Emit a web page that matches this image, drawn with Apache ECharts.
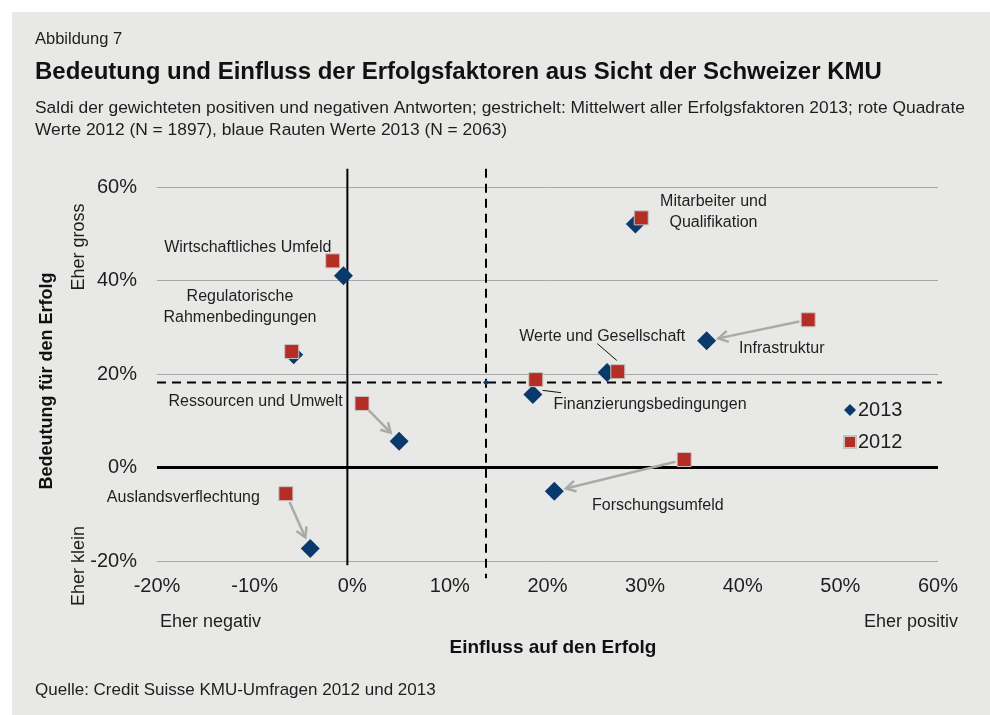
<!DOCTYPE html>
<html>
<head>
<meta charset="utf-8">
<script src="https://cdn.jsdelivr.net/npm/echarts@6/dist/echarts.min.js"></script>
<style>
  html, body { margin: 0; padding: 0; background: #ffffff; }
  #chart { width: 990px; height: 715px; }
</style>
</head>
<body>
<div id="chart"></div>
<script>
// Erfolgsfaktoren, Werte in Prozent
const factors = ['Mitarbeiter und Qualifikation', 'Wirtschaftliches Umfeld', 'Regulatorische Rahmenbedingungen',
  'Ressourcen und Umwelt', 'Auslandsverflechtung', 'Werte und Gesellschaft', 'Infrastruktur',
  'Finanzierungsbedingungen', 'Forschungsumfeld']
const einfluss2012 = [29.6, -2.0, -6.2, 1.0, -6.8, 27.2, 46.7, 18.8, 34.0]
const bedeutung2012 = [53.4, 44.2, 24.8, 13.7, -5.6, 20.5, 31.6, 18.8, 1.7]
const einfluss2013 = [29.0, -0.9, -6.0, 4.8, -4.3, 26.1, 36.3, 18.5, 20.7]
const bedeutung2013 = [52.1, 41.0, 24.1, 5.6, -17.3, 20.3, 27.1, 15.6, -5.1]
// Pfeile von 2012 nach 2013
const arrowIdx = [3, 4, 6, 8]
// Mittelwert aller Erfolgsfaktoren 2013
const meanX = 13.7
const meanY = 18.2
const zeroX = -0.5

// Beschriftungen (Datenkoordinaten)
const labelText = ['Mitarbeiter und\nQualifikation', 'Wirtschaftliches Umfeld', 'Regulatorische\nRahmenbedingungen',
  'Ressourcen und Umwelt', 'Auslandsverflechtung', 'Werte und Gesellschaft', 'Infrastruktur',
  'Finanzierungsbedingungen', 'Forschungsumfeld']
const labelX = [37.0, -10.7, -11.5, -9.9, -17.3, 25.6, 44.0, 30.5, 31.3]
const labelY = [54.7, 47.0, 34.4, 14.1, -6.4, 28.0, 25.4, 13.5, -8.1]
// Hinweislinien [x1, y1, x2, y2]
const leaders = [[25.1, 26.5, 27.1, 22.9], [19.5, 16.5, 21.4, 16.0]]

const font = "'Liberation Sans', Arial, sans-serif"
const textColor = '#1e1e1e'
const red = '#b42d27'
const blue = '#0a3a6c'
const grey = '#a9aba7'

const chart = echarts.init(document.getElementById('chart'))

const pts2012 = einfluss2012.map((x, i) => [x, bedeutung2012[i]])
const pts2013 = einfluss2013.map((x, i) => [x, bedeutung2013[i]])
const arrows = arrowIdx.map(i => [einfluss2012[i], bedeutung2012[i], einfluss2013[i], bedeutung2013[i]])

const solidLines = [[zeroX, 63.9, zeroX, -20.9, 2], [-20, 0, 60, 0, 3]]
const dashedLines = [[meanX, 63.9, meanX, -23.7], [-20, meanY, 60.4, meanY]]

function lineItem(params, api, style) {
  const a = api.coord([api.value(0), api.value(1)])
  const b = api.coord([api.value(2), api.value(3)])
  return { type: 'line', shape: { x1: a[0], y1: a[1], x2: b[0], y2: b[1] }, style: style }
}

const options = {
  backgroundColor: '#ffffff',
  graphic: [
    { type: 'rect', left: 12, top: 12, shape: { width: 978, height: 703 }, style: { fill: '#e8e9e7' }, z: -10 },
    { type: 'text', left: 35, top: 31, style: { text: 'Abbildung 7', font: '16.5px ' + font, fill: textColor } },
    { type: 'text', left: 35, top: 60, style: { text: 'Bedeutung und Einfluss der Erfolgsfaktoren aus Sicht der Schweizer KMU', font: 'bold 24px ' + font, fill: '#111' } },
    { type: 'text', left: 35, top: 97, style: { text: 'Saldi der gewichteten positiven und negativen Antworten; gestrichelt: Mittelwert aller Erfolgsfaktoren 2013; rote Quadrate\nWerte 2012 (N = 1897), blaue Rauten Werte 2013 (N = 2063)', font: '17.4px ' + font, fill: textColor, lineHeight: 22 } },
    { type: 'text', left: 35, top: 682, style: { text: 'Quelle: Credit Suisse KMU-Umfragen 2012 und 2013', font: '17px ' + font, fill: textColor } },
    { type: 'text', left: 160, top: 613, style: { text: 'Eher negativ', font: '18px ' + font, fill: textColor } },
    { type: 'text', right: 32, top: 613, style: { text: 'Eher positiv', font: '18px ' + font, fill: textColor } },
    { type: 'text', x: 553, y: 648, style: { text: 'Einfluss auf den Erfolg', font: 'bold 19px ' + font, fill: '#111', align: 'center', verticalAlign: 'middle' } },
    { type: 'text', x: 47, y: 381, rotation: Math.PI / 2, style: { text: 'Bedeutung für den Erfolg', font: 'bold 18px ' + font, fill: '#111', align: 'center', verticalAlign: 'middle' } },
    { type: 'text', x: 79, y: 247, rotation: Math.PI / 2, style: { text: 'Eher gross', font: '18px ' + font, fill: textColor, align: 'center', verticalAlign: 'middle' } },
    { type: 'text', x: 79, y: 566, rotation: Math.PI / 2, style: { text: 'Eher klein', font: '18px ' + font, fill: textColor, align: 'center', verticalAlign: 'middle' } }
  ],
  grid: { left: 157, right: 52, top: 187, bottom: 154 },
  legend: {
    orient: 'vertical',
    left: 838,
    top: 395,
    itemWidth: 12,
    itemHeight: 12,
    itemGap: 12,
    data: [{ name: '2013', icon: 'diamond' }, { name: '2012', icon: 'rect' }],
    textStyle: { fontFamily: font, fontSize: 20, color: textColor, padding: [0, 0, 0, -3] }
  },
  xAxis: {
    type: 'value',
    min: -20,
    max: 60,
    interval: 10,
    axisLine: { show: false },
    axisTick: { show: false },
    splitLine: { show: false },
    axisLabel: { formatter: '{value}%', fontFamily: font, fontSize: 20, color: textColor, margin: 15 }
  },
  yAxis: {
    type: 'value',
    min: -20,
    max: 60,
    interval: 20,
    axisLine: { show: false },
    axisTick: { show: false },
    splitLine: { lineStyle: { color: '#a8a8a8', width: 1 } },
    axisLabel: { formatter: '{value}%', fontFamily: font, fontSize: 20, color: textColor, margin: 20 }
  },
  series: [
    {
      type: 'custom',
      name: 'solid',
      silent: true,
      z: 1,
      data: solidLines,
      renderItem: (params, api) => lineItem(params, api, { stroke: '#000', lineWidth: api.value(4) })
    },
    {
      type: 'custom',
      name: 'dashed',
      silent: true,
      z: 1,
      data: dashedLines,
      renderItem: (params, api) => lineItem(params, api, { stroke: '#000', lineWidth: 2, lineDash: [9, 6] })
    },
    {
      type: 'custom',
      name: 'leader',
      silent: true,
      z: 2,
      data: leaders,
      renderItem: (params, api) => lineItem(params, api, { stroke: '#111', lineWidth: 1 })
    },
    {
      type: 'custom',
      name: 'arrows',
      silent: true,
      z: 2,
      data: arrows,
      renderItem: (params, api) => {
        const a = api.coord([api.value(0), api.value(1)])
        const b = api.coord([api.value(2), api.value(3)])
        const dx = b[0] - a[0], dy = b[1] - a[1]
        const len = Math.sqrt(dx * dx + dy * dy)
        const ux = dx / len, uy = dy / len
        const s = [a[0] + ux * 9, a[1] + uy * 9]
        const t = [b[0] - ux * 12, b[1] - uy * 12]
        const h = 11, ang = Math.PI / 6
        const c = Math.cos(ang), sn = Math.sin(ang)
        const p1 = [t[0] - h * (ux * c - uy * sn), t[1] - h * (uy * c + ux * sn)]
        const p2 = [t[0] - h * (ux * c + uy * sn), t[1] - h * (uy * c - ux * sn)]
        return {
          type: 'group',
          children: [
            { type: 'line', shape: { x1: s[0], y1: s[1], x2: t[0], y2: t[1] }, style: { stroke: grey, lineWidth: 2.5 } },
            { type: 'polyline', shape: { points: [p1, t, p2] }, style: { stroke: grey, lineWidth: 2.5, fill: null } }
          ]
        }
      }
    },
    {
      type: 'custom',
      name: 'labels',
      silent: true,
      z: 3,
      data: labelX.map((x, i) => [x, labelY[i]]),
      renderItem: (params, api) => {
        const p = api.coord([api.value(0), api.value(1)])
        return {
          type: 'text',
          x: p[0],
          y: p[1],
          style: { text: labelText[params.dataIndex], font: '16px ' + font, fill: textColor, align: 'center', verticalAlign: 'middle', lineHeight: 21 }
        }
      }
    },
    {
      type: 'scatter',
      name: 'mean',
      silent: true,
      symbol: 'diamond',
      symbolSize: 6,
      z: 4,
      itemStyle: { color: blue, opacity: 1 },
      data: [[meanX, meanY]]
    },
    {
      type: 'scatter',
      name: '2013',
      symbol: 'diamond',
      symbolSize: 19,
      z: 5,
      itemStyle: { color: blue, opacity: 1 },
      data: pts2013
    },
    {
      type: 'scatter',
      name: '2012',
      symbol: 'rect',
      symbolSize: 14,
      z: 6,
      itemStyle: { color: red, borderColor: '#c9c3bf', borderWidth: 1, opacity: 1 },
      data: pts2012
    }
  ]
}
chart.setOption(options)
</script>
</body>
</html>
